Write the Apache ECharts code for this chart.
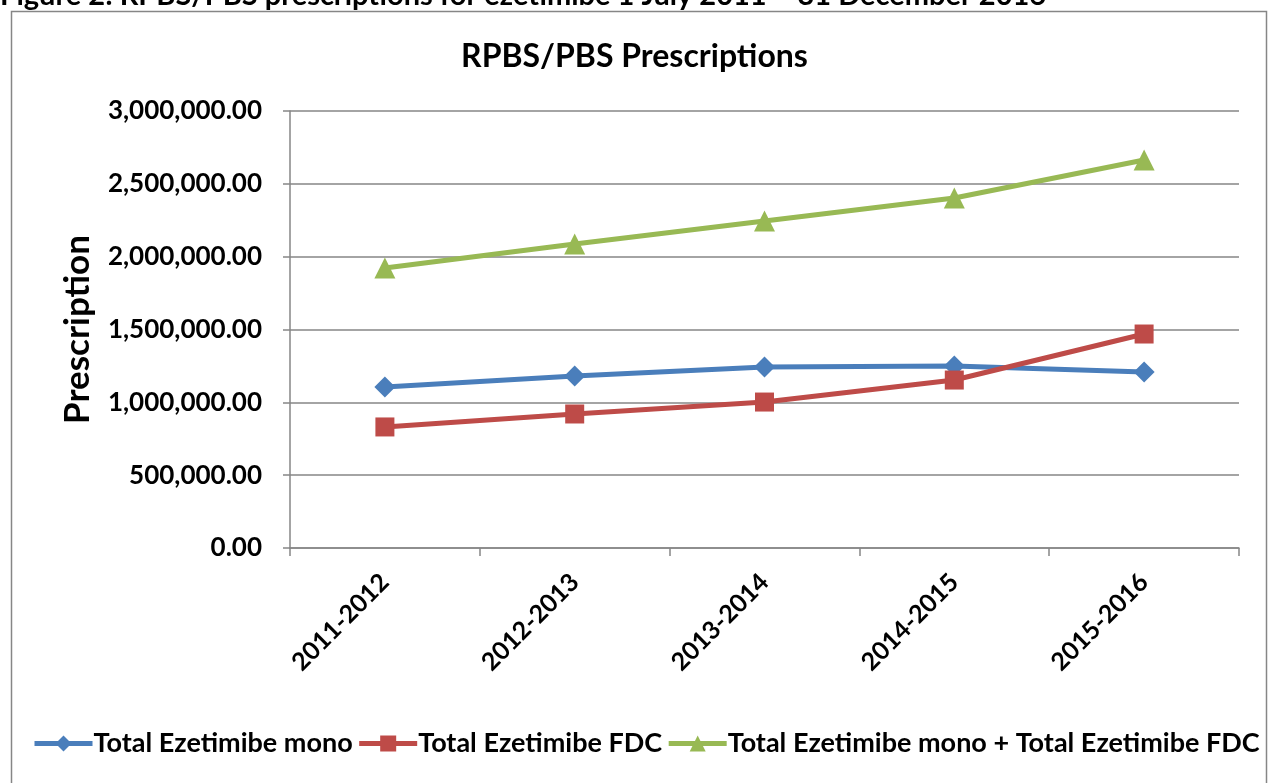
<!DOCTYPE html>
<html>
<head>
<meta charset="utf-8">
<script src="https://cdn.jsdelivr.net/npm/echarts@6/dist/echarts.min.js"></script>
<style>html,body{margin:0;padding:0;background:#fff;}#c{width:1269px;height:783px;}</style>
</head>
<body>
<div id="c"></div>
<script>
const categories = ['2011-2012', '2012-2013', '2013-2014', '2014-2015', '2015-2016'];
const mono = [1105000, 1181000, 1243000, 1249000, 1208000];
const fdc = [831000, 920000, 1002000, 1153000, 1469000];
const total = [1922000, 2087000, 2245000, 2403000, 2664000];
const seriesNames = ['Total Ezetimibe mono', 'Total Ezetimibe FDC', 'Total Ezetimibe mono + Total Ezetimibe FDC'];
const yTicks = [0, 500000, 1000000, 1500000, 2000000, 2500000, 3000000];

const FONT = 'Lato';
const W = 'bold';
const chart = echarts.init(document.getElementById('c'));
function fmt(v) {
  return v.toLocaleString('en-US', {minimumFractionDigits: 2, maximumFractionDigits: 2});
}
chart.setOption({
  animation: false,
  textStyle: {fontFamily: FONT},
  graphic: [
    {type: 'rect', shape: {x: 11.5, y: 11.5, width: 1255, height: 800}, style: {fill: 'none', stroke: '#868686', lineWidth: 1.5}, z: -1},
    {type: 'text', left: 0, top: -19, style: {text: 'Figure 2: RPBS/PBS prescriptions for ezetimibe 1 July 2011 \u2013 31 December 2016', font: 'bold 29px ' + FONT, fill: '#000'}}
  ],
  title: {
    text: 'RPBS/PBS Prescriptions', left: 'center', top: 36,
    textStyle: {fontFamily: FONT, fontSize: 32, fontWeight: W, color: '#000'}
  },
  legend: {
    data: seriesNames, left: 32, top: 730, width: 1500, padding: 0, itemGap: 4, itemWidth: 58, itemHeight: 20,
    lineStyle: {width: 5},
    textStyle: {fontFamily: FONT, fontSize: 27, fontWeight: W, color: '#000', padding: [0, 0, 0, -4]}
  },
  grid: {left: 290, right: 30, top: 111, bottom: 235},
  xAxis: {
    type: 'category', data: categories, boundaryGap: true,
    axisLine: {lineStyle: {color: '#868686', width: 1.5}},
    axisTick: {show: true, length: 8, lineStyle: {color: '#868686', width: 1.5}},
    axisLabel: {rotate: 45, fontFamily: FONT, fontSize: 25, fontWeight: W, color: '#000', margin: 30, interval: 0}
  },
  yAxis: {
    type: 'value', min: 0, max: 3000000, interval: 500000,
    name: 'Prescription', nameLocation: 'middle', nameGap: 195, nameRotate: 90,
    nameTextStyle: {fontFamily: FONT, fontSize: 35, fontWeight: W, color: '#000'},
    axisLine: {show: true, lineStyle: {color: '#868686', width: 1.5}},
    axisTick: {show: true, length: 7, lineStyle: {color: '#868686', width: 1.5}},
    axisLabel: {fontFamily: FONT, fontSize: 26, fontWeight: W, color: '#000', margin: 28, formatter: fmt},
    splitLine: {lineStyle: {color: '#868686', width: 1.5}}
  },
  series: [
    {name: seriesNames[0], type: 'line', data: mono, symbol: 'diamond', symbolSize: 21,
     lineStyle: {color: '#4a7ebb', width: 5}, itemStyle: {color: '#4a7ebb'}},
    {name: seriesNames[1], type: 'line', data: fdc, symbol: 'rect', symbolSize: 19,
     lineStyle: {color: '#be4b48', width: 5}, itemStyle: {color: '#be4b48'}},
    {name: seriesNames[2], type: 'line', data: total, symbol: 'triangle', symbolSize: 21,
     lineStyle: {color: '#98b954', width: 5}, itemStyle: {color: '#98b954'}}
  ]
});
</script>
</body>
</html>
